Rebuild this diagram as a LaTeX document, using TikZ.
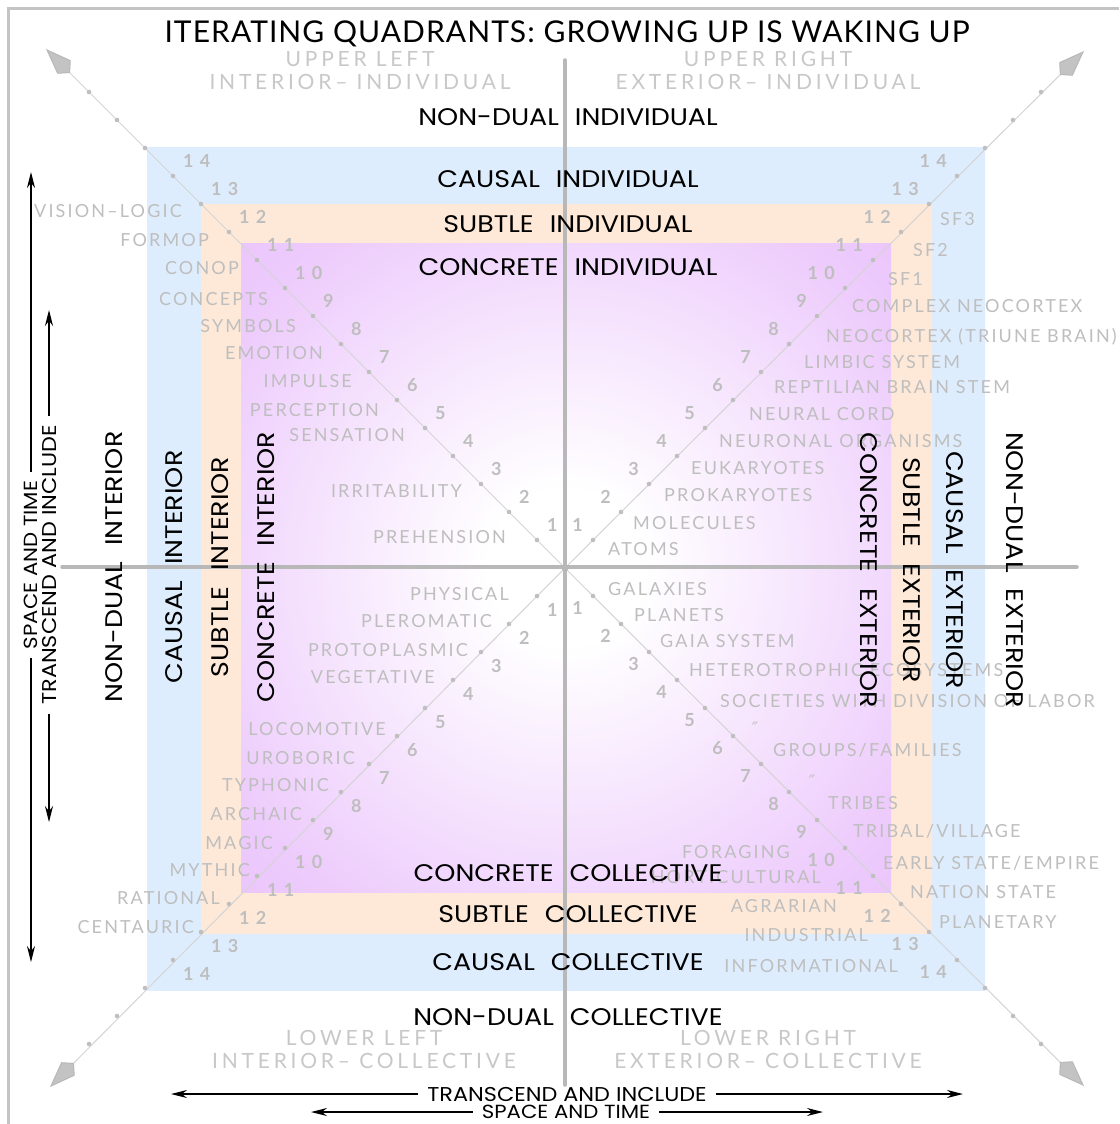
\documentclass[tikz,border=0pt]{standalone}
\usepackage{fontspec}
\usepackage{tikz}
\usetikzlibrary{
    positioning,
    arrows.meta,
    calc
}
\setmainfont{Lato}
\newfontfamily\TitleFont[LetterSpace=3.5]{Lato}
\newfontfamily\LevelFont[FakeStretch=1.12]{Poppins}
\newfontfamily\StageFont[LetterSpace=12]{Lato}
\newfontfamily\QuadFont[LetterSpace=18]{Lato}
\newfontfamily\NumFont[LetterSpace=35]{Lato}
\newfontfamily\MarkFont{DejaVu Sans}

\definecolor{CausalBlue}{RGB}{190,217,251}
\definecolor{CausalLight}{RGB}{222,237,253}
\definecolor{SubtleOrange}{RGB}{252,216,190}
\definecolor{SubtleLight}{RGB}{254,233,216}
\definecolor{ConcretePurple}{RGB}{227,178,252}
\definecolor{ConcreteMid}{RGB}{237,203,252}
\definecolor{StageGray}{RGB}{190,190,190}
\definecolor{QuadGray}{RGB}{200,200,200}
\definecolor{AxisGray}{RGB}{184,184,184}
\definecolor{DiagGray}{RGB}{212,212,212}
\definecolor{FrameGray}{RGB}{196,196,196}

\pgfdeclareradialshading{causalglow}{\pgfpoint{0bp}{0bp}}{%
  color(0bp)=(CausalLight); color(44bp)=(CausalLight); color(71bp)=(CausalBlue)}
\pgfdeclareradialshading{subtleglow}{\pgfpoint{0bp}{0bp}}{%
  color(0bp)=(SubtleLight); color(44bp)=(SubtleLight); color(71bp)=(SubtleOrange)}
\pgfdeclareradialshading{concreteglow}{\pgfpoint{0bp}{0bp}}{%
  color(0bp)=(white); color(6bp)=(white); color(31bp)=(ConcreteMid); color(53bp)=(ConcretePurple); color(71bp)=(ConcretePurple)}

\begin{document}
\begin{tikzpicture}[
    x=1pt, y=-1pt,
    every node/.style={inner sep=0pt},
    stage/.style={StageGray, font=\StageFont\fontsize{18}{18}\selectfont, text height=13pt, text depth=0pt},
    quad/.style={QuadGray, font=\QuadFont\fontsize{21}{21}\selectfont, text height=15pt, text depth=0pt},
    level/.style={font=\LevelFont\fontsize{24}{24}\selectfont, text height=17pt, text depth=0pt},
    sidelevel/.style={font=\LevelFont\fontsize{24}{24}\selectfont, text height=17pt, text depth=0pt},
    flowtext/.style={font=\LevelFont\fontsize{20}{20}\selectfont, text height=14pt, text depth=0pt},
    flowsmall/.style={font=\LevelFont\fontsize{19}{19}\selectfont, text height=13pt, text depth=0pt},
    stepnum/.style={StageGray, font=\NumFont\bfseries\fontsize{18}{18}\selectfont, text height=13pt, text depth=0pt},
    dittomark/.style={StageGray, font=\MarkFont\itshape\fontsize{17}{17}\selectfont},
    axisline/.style={AxisGray, line width=3.5pt, line cap=round},
    diagline/.style={DiagGray, line width=1pt, -{Kite[length=34pt,width=19pt,fill=AxisGray!85,color=AxisGray]}},
    diagdot/.style={fill=DiagGray!90!black},
    flowarrow/.style={line width=1.4pt, shorten <=9pt, -{Stealth[length=16pt,width=8pt]}},
  ]
  \def\stepd{28}

  \fill[white] (0,0) rectangle (1119,1124);
  \useasboundingbox (0,0) rectangle (1119,1124);

  % Frame
  \draw[FrameGray, line width=3pt] (8,1124) -- (8,9) -- (1119,9);

  % ---- Nested levels ----
  \shade[shading=causalglow] (147,147) rectangle (985,990);
  \shade[shading=subtleglow] (201,204) rectangle (932,933);
  \shade[shading=concreteglow] (241,243) rectangle (891,892);

  % ---- Diagonals with steps ----
  \coordinate (O) at (565,568);
  \coordinate (tipUL) at (46,49);
  \coordinate (tipUR) at (1084,51);
  \coordinate (tipLL) at (50,1087);
  \coordinate (tipLR) at (1084,1086);
  \foreach \tip in {tipUL,tipUR,tipLL,tipLR}
    \draw[diagline] (O) -- (\tip);
  \foreach \k in {1,...,17}{
    \fill[diagdot] (565-\stepd*\k,568-\stepd*\k) circle (2.3pt);
    \fill[diagdot] (565+\stepd*\k,568-\stepd*\k) circle (2.3pt);
    \fill[diagdot] (565-\stepd*\k,568+\stepd*\k) circle (2.3pt);
    \fill[diagdot] (565+\stepd*\k,568+\stepd*\k) circle (2.3pt);
  }
  \foreach \k in {1,...,14}{
    \node[stepnum, anchor=west] (nUL\k) at (565-\stepd*\k+10,568-\stepd*\k-15) {\k};
    \node[stepnum, anchor=east] (nUR\k) at (565+\stepd*\k-10,568-\stepd*\k-15) {\k};
    \node[stepnum, anchor=west] (nLL\k) at (565-\stepd*\k+10,568+\stepd*\k+14) {\k};
    \node[stepnum, anchor=east] (nLR\k) at (565+\stepd*\k-10,568+\stepd*\k+12) {\k};
  }

  % ---- Axes ----
  \draw[axisline] (565,60) -- (565,1085);
  \draw[axisline] (62,567) -- (1077,567);
  \fill[AxisGray] (O) circle (3.5pt);

  % Title
  \node[font=\TitleFont\fontsize{30}{30}\selectfont, text height=21pt, text depth=0pt] (title) at (567,32)
    {ITERATING QUADRANTS: GROWING UP IS WAKING UP};

  % ---- Quadrant names ----
  \node[quad] (ulA) at (360,59) {UPPER LEFT};
  \node[quad] (ulB) at (360,82) {INTERIOR– INDIVIDUAL};
  \node[quad] (urA) at (768,59) {UPPER RIGHT};
  \node[quad] (urB) at (768,82) {EXTERIOR– INDIVIDUAL};
  \node[quad] (llA) at (364,1038) {LOWER LEFT};
  \node[quad] (llB) at (364,1061) {INTERIOR– COLLECTIVE};
  \node[quad] (lrA) at (768,1038) {LOWER RIGHT};
  \node[quad] (lrB) at (768,1061) {EXTERIOR– COLLECTIVE};

  % ---- Upper left: interior individual ----
  \foreach \x/\y/\lab [count=\n] in {182/211/VISION–LOGIC, 209/240/FORMOP, 239/268/CONOP,
      268/299/CONCEPTS, 296/326/SYMBOLS, 323/353/EMOTION, 352/381/IMPULSE,
      379/410/PERCEPTION, 405/435/SENSATION, 462/491/IRRITABILITY, 506/537/PREHENSION}
    \node[stage, anchor=east] (ul\n) at (\x,\y) {\lab};

  % ---- Upper right: exterior individual ----
  \foreach \x/\y/\lab [count=\n] in {940/219/SF3, 913/250/SF2, 888/279/SF1,
      852/306/COMPLEX NEOCORTEX, 826/336/NEOCORTEX (TRIUNE BRAIN), 804/362/LIMBIC SYSTEM,
      774/387/REPTILIAN BRAIN STEM, 749/414/NEURAL CORD, 719/441/NEURONAL ORGANISMS,
      691/468/EUKARYOTES, 664/495/PROKARYOTES, 633/523/MOLECULES, 608/549/ATOMS}
    \node[stage, anchor=west] (ur\n) at (\x,\y) {\lab};

  % ---- Lower left: interior collective ----
  \foreach \x/\y/\lab [count=\n] in {509/594/PHYSICAL, 492/621/PLEROMATIC, 468/650/PROTOPLASMIC,
      435/677/VEGETATIVE, 386/729/LOCOMOTIVE, 355/758/UROBORIC, 329/785/TYPHONIC,
      302/814/ARCHAIC, 273/843/MAGIC, 250/870/MYTHIC, 220/898/RATIONAL, 194/927/CENTAURIC}
    \node[stage, anchor=east] (ll\n) at (\x,\y) {\lab};

  % ---- Lower right: exterior collective ----
  \foreach \x/\y/\lab [count=\n] in {608/589/GALAXIES, 634/615/PLANETS, 660/641/GAIA SYSTEM,
      689/670/HETEROTROPHIC ECOSYSTEMS, 720/701/SOCIETIES WITH DIVISION OF LABOR,
      773/750/{GROUPS/FAMILIES}, 828/803/TRIBES, 853/831/{TRIBAL/VILLAGE},
      883/863/{EARLY STATE/EMPIRE}, 910/892/NATION STATE, 939/922/PLANETARY}
    \node[stage, anchor=west] (lr\n) at (\x,\y) {\lab};
  \foreach \x/\y/\lab [count=\n] in {790/852/FORAGING, 821/877/HORTICULTURAL,
      837/906/AGRARIAN, 868/935/INDUSTRIAL, 898/966/INFORMATIONAL}
    \node[stage, anchor=east] (lrm\n) at (\x,\y) {\lab};
  \node[dittomark] (dittoA) at (755,728) {″};
  \node[dittomark] (dittoB) at (812,781) {″};

  % ---- Level names ----
  \foreach \y/\lab [count=\n] in {117/{NON-DUAL\hspace{16pt}INDIVIDUAL}, 179/{CAUSAL\hspace{16pt}INDIVIDUAL},
      224/{SUBTLE\hspace{16pt}INDIVIDUAL}, 267/{CONCRETE\hspace{16pt}INDIVIDUAL},
      873/{CONCRETE\hspace{16pt}COLLECTIVE}, 914/{SUBTLE\hspace{16pt}COLLECTIVE},
      962/{CAUSAL\hspace{16pt}COLLECTIVE}, 1017/{NON-DUAL\hspace{16pt}COLLECTIVE}}
    \node[level] (lvl\n) at (568,\y) {\lab};
  \foreach \x/\lab [count=\n] in {114/{NON-DUAL\hspace{16pt}INTERIOR}, 174/{CAUSAL\hspace{16pt}INTERIOR},
      220/{SUBTLE\hspace{16pt}INTERIOR}, 266/{CONCRETE\hspace{16pt}INTERIOR}}
    \node[sidelevel, rotate=90] (int\n) at (\x,567) {\lab};
  \foreach \x/\lab [count=\n] in {869/{CONCRETE\hspace{16pt}EXTERIOR}, 912/{SUBTLE\hspace{16pt}EXTERIOR},
      955/{CAUSAL\hspace{16pt}EXTERIOR}, 1015/{NON-DUAL\hspace{16pt}EXTERIOR}}
    \node[sidelevel, rotate=-90] (ext\n) at (\x,570) {\lab};

  % ---- Transcend and include / space and time ----
  \node[flowsmall, rotate=90] (stSide) at (31,565) {SPACE AND TIME};
  \coordinate (stSideUp) at (31,172);
  \coordinate (stSideDown) at (31,962);
  \draw[flowarrow] (stSide) -- (stSideUp);
  \draw[flowarrow] (stSide) -- (stSideDown);

  \node[flowtext, rotate=90] (tiSide) at (49,565) {TRANSCEND AND INCLUDE};
  \coordinate (tiSideUp) at (49,310);
  \coordinate (tiSideDown) at (49,822);
  \draw[flowarrow] (tiSide) -- (tiSideUp);
  \draw[flowarrow] (tiSide) -- (tiSideDown);

  \node[flowtext] (tiBottom) at (567,1094) {TRANSCEND AND INCLUDE};
  \coordinate (tiBottomL) at (171,1094);
  \coordinate (tiBottomR) at (963,1094);
  \draw[flowarrow] (tiBottom) -- (tiBottomL);
  \draw[flowarrow] (tiBottom) -- (tiBottomR);

  \node[flowsmall] (stBottom) at (566,1112) {SPACE AND TIME};
  \coordinate (stBottomL) at (311,1112);
  \coordinate (stBottomR) at (823,1112);
  \draw[flowarrow] (stBottom) -- (stBottomL);
  \draw[flowarrow] (stBottom) -- (stBottomR);
\end{tikzpicture}
\end{document}
